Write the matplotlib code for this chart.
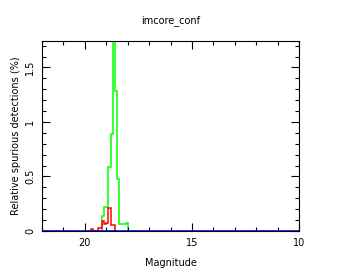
import matplotlib
matplotlib.use("Agg")
import matplotlib.pyplot as plt
from matplotlib.ticker import MultipleLocator

# ----- data (0.1 mag bins) -----
green_edges = [19.2, 19.1, 19.0, 18.9, 18.8, 18.7, 18.6, 18.5, 18.4, 18.3, 18.2, 18.1, 18.0]
green_vals = [0.14, 0.22, 0.22, 0.59, 0.89, 1.90, 1.28, 0.48, 0.064, 0.064, 0.064, 0.076]

red_edges = [19.7, 19.6, 19.5, 19.4, 19.3, 19.2, 19.1, 19.0, 18.9, 18.8, 18.7, 18.6]
red_vals = [0.02, 0.0, 0.0, 0.03, 0.03, 0.09, 0.065, 0.07, 0.21, 0.055, 0.055]

x_ticks = [20, 15, 10]
y_ticks = [0, 0.5, 1, 1.5]

plt.rcParams["font.family"] = "DejaVu Sans"
plt.rcParams["font.size"] = 7

fig = plt.figure(figsize=(3.41, 2.73), dpi=100)
ax = fig.add_axes([0.123, 0.154, 0.754, 0.696])

# histograms are given high->low mag, stairs wants increasing edges
ax.stairs(green_vals[::-1], green_edges[::-1], color="#00ff00", lw=1.1, baseline=0)
ax.stairs(red_vals[::-1], red_edges[::-1], color="#ff0000", lw=1.1, baseline=0)
ax.axhline(0, color="#0000ff", lw=1.2, zorder=5)

ax.set_xlim(22, 10)
ax.set_ylim(0, 1.743)

ax.set_xticks(x_ticks)
ax.set_xticklabels([str(t) for t in x_ticks])
ax.set_yticks(y_ticks)
ax.set_yticklabels(["0", "0.5", "1", "1.5"], rotation=90, va="center")
ax.xaxis.set_minor_locator(MultipleLocator(1))
ax.yaxis.set_minor_locator(MultipleLocator(0.1))

ax.tick_params(which="both", direction="in", top=True, right=True, width=0.8, colors="black")
ax.tick_params(which="major", length=6, pad=5)
ax.tick_params(which="minor", length=3)
for s in ax.spines.values():
    s.set_linewidth(0.8)

ax.set_title("imcore_conf", fontsize=7, pad=13)
ax.set_xlabel("Magnitude", labelpad=7)
ax.set_ylabel("Relative spurious detections (%)", labelpad=3)

fig.savefig("out.png", dpi=100)
